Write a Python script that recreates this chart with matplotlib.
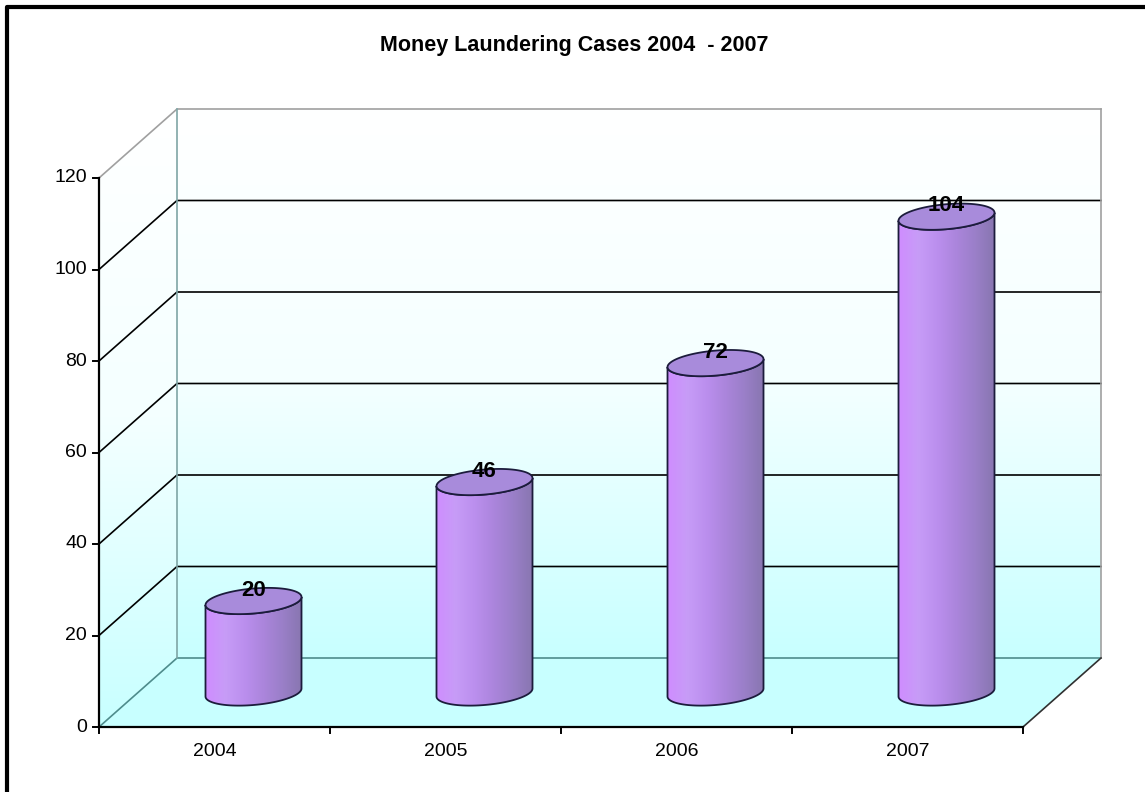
import numpy as np
import matplotlib.pyplot as plt
from matplotlib.patches import Polygon
from matplotlib.lines import Line2D
from matplotlib.colors import LinearSegmentedColormap

years = ['2004', '2005', '2006', '2007']
cases = [20, 46, 72, 104]
y_ticks = [0, 20, 40, 60, 80, 100, 120]
title = 'Money Laundering Cases 2004  - 2007'

# pixel scale of the front plane and oblique depth offset (in data units)
PX_CAT = 231.0
PX_VAL = 4.575
DX = 78 / PX_CAT
DY = 69 / PX_VAL
YMAX = 120
RX = 48 / PX_CAT
RY = 12.5 / PX_VAL
TILT = 4 / PX_VAL

plt.rcParams['font.family'] = ['Liberation Sans', 'DejaVu Sans']

fig = plt.figure(figsize=(11.45, 7.92), dpi=100)
ax = fig.add_axes([0, 0, 1, 1])
ax.axis('off')

n = len(years)
wall_cmap = LinearSegmentedColormap.from_list('wall', ['#ffffff', '#f4ffff', '#c8ffff'])
grad = np.linspace(0, 1, 256).reshape(-1, 1)

# back wall (white at the top fading to pale cyan)
ax.imshow(grad, cmap=wall_cmap, extent=(DX, n + DX, DY, YMAX + DY), origin='upper',
          aspect='auto', interpolation='bicubic', zorder=1)
# left side wall
side = Polygon([(0, 0), (DX, DY), (DX, YMAX + DY), (0, YMAX)], closed=True,
               facecolor='none', edgecolor='none')
ax.add_patch(side)
im = ax.imshow(grad, cmap=wall_cmap, extent=(0, DX, 0, YMAX + DY), origin='upper',
               aspect='auto', interpolation='bicubic', zorder=1)
im.set_clip_path(side)
# floor
ax.add_patch(Polygon([(0, 0), (n, 0), (n + DX, DY), (DX, DY)], closed=True,
                     facecolor='#c8ffff', edgecolor='none', zorder=1))

# gridlines on back and side walls
for v in y_ticks:
    if v == 0:
        col = '#4f8c8c'
    elif v == YMAX:
        col = '#a0a0a0'
    else:
        col = '#000000'
    ax.plot([0, DX, n + DX], [v, v + DY, v + DY], color=col, lw=1.2, zorder=2)
ax.plot([DX, DX], [DY, YMAX + DY], color='#7fa6a6', lw=1.2, zorder=2)
ax.plot([n + DX, n + DX], [DY, YMAX + DY], color='#a0a0a0', lw=1.2, zorder=2)
ax.plot([n, n + DX], [0, DY], color='#303030', lw=1.2, zorder=2)

# cylinders
body_cmap = LinearSegmentedColormap.from_list(
    'body', ['#cf8dff', '#c79cf7', '#bb8fee', '#ab85dc', '#9a7fc8', '#8876b0'])
hgrad = np.linspace(0, 1, 256).reshape(1, -1)
t_front = np.linspace(np.pi, 2 * np.pi, 60)
t_full = np.linspace(0, 2 * np.pi, 120)


def ring(cx, cy, t):
    return np.column_stack([cx + RX * np.cos(t),
                            cy + RY * np.sin(t) + TILT * np.cos(t)])


for i, v in enumerate(cases):
    cx = i + 0.5 + DX / 2
    base = DY / 2
    top = v + DY / 2
    pts = np.vstack([ring(cx, base, t_front), ring(cx, top, t_front[::-1])])
    body = Polygon(pts, closed=True, facecolor='none', edgecolor='#1c1c3c',
                   lw=1.3, zorder=5)
    ax.add_patch(body)
    bim = ax.imshow(hgrad, cmap=body_cmap,
                    extent=(cx - RX, cx + RX, base - 2 * RY, top + 2 * RY),
                    aspect='auto', interpolation='bicubic', zorder=4)
    bim.set_clip_path(body)
    ax.add_patch(Polygon(ring(cx, top, t_full), closed=True, facecolor='#a88bdb',
                         edgecolor='#1c1c3c', lw=1.3, zorder=6))
    ax.text(cx, top + 2.4, str(v), ha='center', va='center', fontsize=16,
            fontweight='bold', color='#000000', zorder=8)

# front axes
ax.plot([0, 0], [0, YMAX], color='#000000', lw=1.6, zorder=7)
ax.plot([0, n], [0, 0], color='#000000', lw=1.6, zorder=7)
for v in y_ticks:
    ax.plot([-6 / PX_CAT, 0], [v, v], color='#000000', lw=1.4, zorder=7)
    ax.text(-12 / PX_CAT, v, str(v), ha='right', va='center', fontsize=14,
            color='#000000', zorder=8)
for k in range(n + 1):
    ax.plot([k, k], [0, -6 / PX_VAL], color='#000000', lw=1.4, zorder=7)
for i, lab in enumerate(years):
    ax.text(i + 0.5, -25 / PX_VAL, lab, ha='center', va='center', fontsize=14,
            color='#000000', zorder=8)

ax.set_xlim(-99 / PX_CAT, (1145 - 99) / PX_CAT)
ax.set_ylim(-(792 - 727) / PX_VAL, 727 / PX_VAL)

fig.text(574 / 1145, 1 - 46 / 792, title, ha='center', va='center',
         fontsize=15.5, fontweight='bold', color='#000000')

# outer frame (top and left edges)
fig.add_artist(Line2D([7 / 1145, 7 / 1145, 1.0], [0.0, 1 - 7 / 792, 1 - 7 / 792],
                      transform=fig.transFigure, color='#000000', lw=3))

fig.savefig('out.png', dpi=100)
